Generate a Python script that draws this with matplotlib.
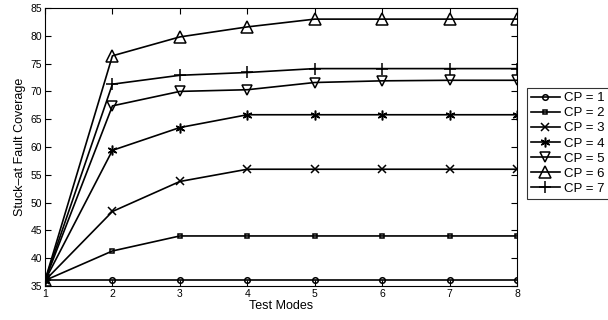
import matplotlib
matplotlib.use("Agg")
import matplotlib.pyplot as plt

plt.rcParams['font.family'] = ['Liberation Sans', 'DejaVu Sans']

# データ
modes = [1, 2, 3, 4, 5, 6, 7, 8]
cp1 = [36.0, 36.0, 36.0, 36.0, 36.0, 36.0, 36.0, 36.0]
cp2 = [36.0, 41.3, 44.0, 44.0, 44.0, 44.0, 44.0, 44.0]
cp3 = [36.0, 48.4, 53.8, 56.0, 56.0, 56.0, 56.0, 56.0]
cp4 = [36.0, 59.4, 63.5, 65.8, 65.8, 65.8, 65.8, 65.8]
cp5 = [36.0, 67.4, 70.0, 70.3, 71.6, 71.9, 72.0, 72.0]
cp6 = [36.0, 76.4, 79.8, 81.6, 83.0, 83.0, 83.0, 83.0]
cp7 = [36.0, 71.3, 72.9, 73.4, 74.1, 74.1, 74.1, 74.1]
labels = ["CP = 1", "CP = 2", "CP = 3", "CP = 4", "CP = 5", "CP = 6", "CP = 7"]

series = [cp1, cp2, cp3, cp4, cp5, cp6, cp7]
markers = ['o', 's', 'x', (6, 2, 0), 'v', '^', '+']
msizes = [4, 3.5, 6, 7, 7.5, 8, 8]

fig = plt.figure(figsize=(6.08, 3.2), dpi=100)
ax = fig.add_axes([45/608, 34/320, 472/608, 278/320])

for ys, m, ms, lab in zip(series, markers, msizes, labels):
    ax.plot(modes, ys, color='black', lw=1.2, marker=m, markersize=ms,
            markerfacecolor='none', markeredgecolor='black', markeredgewidth=1.1,
            label=lab)

ax.set_xlim(1, 8)
ax.set_ylim(35, 85)
ax.set_xticks(modes)
ax.set_yticks(range(35, 86, 5))
ax.tick_params(direction='in', top=True, right=True, labelsize=7.5, length=4, pad=2)
ax.set_xlabel("Test Modes", fontsize=9, labelpad=1)
ax.set_ylabel("Stuck\u2013at Fault Coverage", fontsize=9, labelpad=3)

leg = ax.legend(loc='upper left', bbox_to_anchor=(527/608, 232/320),
                bbox_transform=fig.transFigure, fontsize=9.5, frameon=True,
                fancybox=False, edgecolor='black', handlelength=2.2,
                handletextpad=0.3, borderpad=0.3, labelspacing=0.22,
                borderaxespad=0)
leg.get_frame().set_linewidth(0.8)

fig.savefig("out.png", dpi=100)
